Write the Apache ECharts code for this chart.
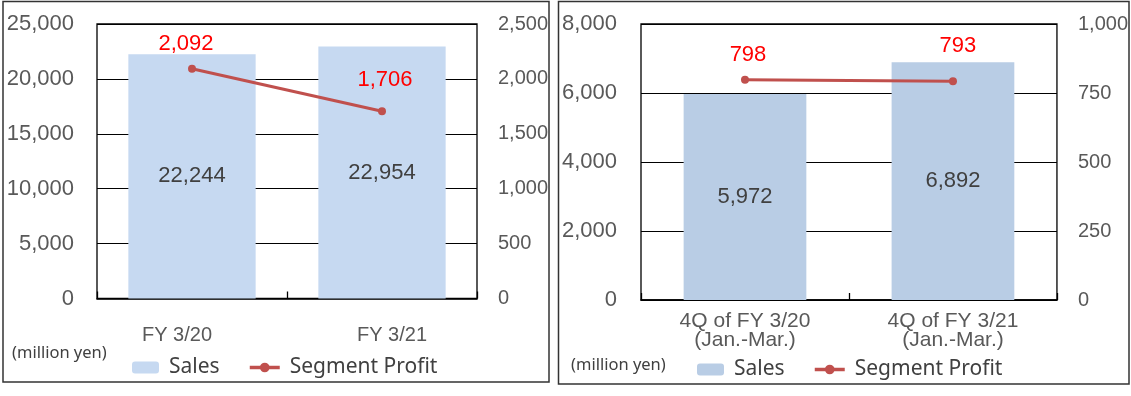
<!DOCTYPE html>
<html><head><meta charset="utf-8">
<script src="https://cdn.jsdelivr.net/npm/echarts@6/dist/echarts.min.js"></script>
<style>html,body{margin:0;padding:0;background:#fff}#c{width:1131px;height:396px}</style>
</head><body><div id="c"></div>
<script>
// ---- data ----
const categoriesFY = ['FY 3/20', 'FY 3/21'];
const salesFY = [22244, 22954];
const profitFY = [2092, 1706];
const categoriesQ = ['4Q of FY 3/20\n(Jan.-Mar.)', '4Q of FY 3/21\n(Jan.-Mar.)'];
const salesQ = [5972, 6892];
const profitQ = [798, 793];
const seriesNames = ['Sales', 'Segment Profit'];
const unitLabel = '(million yen)';
const salesTicksFY = [0, 5000, 10000, 15000, 20000, 25000];
const profitTicksFY = [0, 500, 1000, 1500, 2000, 2500];
const salesTicksQ = [0, 2000, 4000, 6000, 8000];
const profitTicksQ = [0, 250, 500, 750, 1000];

// ---- styling (kept out of the data) ----
const fmt = v => Number(v).toLocaleString('en-US');
const AX = 'Liberation Sans', LG = 'Noto Sans';
const barColL = '#C6D9F1', barColR = '#B9CDE5', lineCol = '#C0504D';
const catPadFY = [[0, 30, 0, 0], [0, 0, 0, 20]];
const profitLabelL = [{distance: 10, offset: [-6, 0]}, {distance: 16, offset: [3, 0]}];
const profitLabelR = [{distance: 10, offset: [3, 0]}, {distance: 20, offset: [5, 0]}];

function yAx(grid, ticks, side, fs, margin, split) {
  return {
    type: 'value', gridIndex: grid, position: side,
    min: ticks[0], max: ticks[ticks.length - 1], interval: ticks[1] - ticks[0],
    axisLine: {show: false}, axisTick: {show: false},
    splitLine: {show: split, lineStyle: {color: '#000', width: 1}},
    axisLabel: {fontFamily: AX, fontSize: fs, color: '#595959', margin: margin, formatter: fmt}
  };
}
function xAx(grid, cats, pads, fs, margin, lh) {
  return {
    type: 'category', gridIndex: grid,
    data: cats.map((c, i) => pads ? {value: c, textStyle: {padding: pads[i]}} : c),
    axisLine: {show: true, lineStyle: {color: '#000', width: 1.5}},
    axisTick: {show: true, inside: true, length: 7, lineStyle: {color: '#000', width: 1.3}},
    axisLabel: {fontFamily: AX, fontSize: fs, color: '#595959', margin: margin, lineHeight: lh}
  };
}
function barS(idx, vals, col, bw) {
  return {
    type: 'bar', name: seriesNames[0], xAxisIndex: idx, yAxisIndex: idx * 2, data: vals,
    barWidth: bw, itemStyle: {color: col},
    label: {show: true, position: 'inside', fontFamily: AX, fontSize: 22, color: '#404040', formatter: p => fmt(p.value)},
    z: 2
  };
}
function lineS(idx, vals, lbls) {
  return {
    type: 'line', name: seriesNames[1], xAxisIndex: idx, yAxisIndex: idx * 2 + 1,
    data: vals.map((v, i) => ({value: v, label: lbls[i]})),
    itemStyle: {color: lineCol}, lineStyle: {color: lineCol, width: 3},
    symbol: 'circle', symbolSize: 8,
    label: {show: true, position: 'top', fontFamily: AX, fontSize: 22, color: '#FF0000', formatter: p => fmt(p.value)},
    z: 5
  };
}
function legendItem(left, top, name, col, w, h) {
  const d = col ? {name: name, itemStyle: {color: col}} : {name: name, lineStyle: {width: 3.5, color: lineCol}};
  return {
    left: left, top: top, orient: 'horizontal', data: [d], selectedMode: false,
    itemWidth: w, itemHeight: h, padding: 0,
    textStyle: {fontFamily: LG, fontSize: 21, color: '#404040', padding: [0, 0, 0, 5]}
  };
}

const chart = echarts.init(document.getElementById('c'), null, {renderer: 'canvas'});
chart.setOption({
  animation: false,
  grid: [
    {left: 97, top: 24, width: 380, height: 274.5, show: true, borderColor: '#000', borderWidth: 1.3, containLabel: false},
    {left: 641, top: 24, width: 417, height: 276, show: true, borderColor: '#000', borderWidth: 1.3, containLabel: false}
  ],
  xAxis: [
    xAx(0, categoriesFY, catPadFY, 20, 26, 22),
    xAx(1, categoriesQ, null, 21, 12, 19)
  ],
  yAxis: [
    yAx(0, salesTicksFY, 'left', 22, 23, true),
    yAx(0, profitTicksFY, 'right', 20, 21, false),
    yAx(1, salesTicksQ, 'left', 22, 24, true),
    yAx(1, profitTicksQ, 'right', 20, 21, false)
  ],
  legend: [
    legendItem(132, 357, seriesNames[0], barColL, 27, 12),
    legendItem(248, 357, seriesNames[1], null, 30, 12),
    legendItem(697, 359, seriesNames[0], barColR, 27, 12),
    legendItem(813, 359, seriesNames[1], null, 30, 12)
  ],
  series: [
    barS(0, salesFY, barColL, '67%'),
    lineS(0, profitFY, profitLabelL),
    barS(1, salesQ, barColR, '59%'),
    lineS(1, profitQ, profitLabelR)
  ],
  graphic: [
    {type: 'rect', shape: {x: 3, y: 1.5, width: 546, height: 380.5}, style: {fill: 'none', stroke: '#333', lineWidth: 1.5}, silent: true},
    {type: 'rect', shape: {x: 558.5, y: 1.5, width: 570.5, height: 382.5}, style: {fill: 'none', stroke: '#333', lineWidth: 1.5}, silent: true},
    {type: 'text', left: 12, top: 345, style: {text: unitLabel, fontFamily: LG, fontSize: 16.5, fill: '#404040'}},
    {type: 'text', left: 571, top: 357, style: {text: unitLabel, fontFamily: LG, fontSize: 16.5, fill: '#404040'}}
  ]
});
</script></body></html>
